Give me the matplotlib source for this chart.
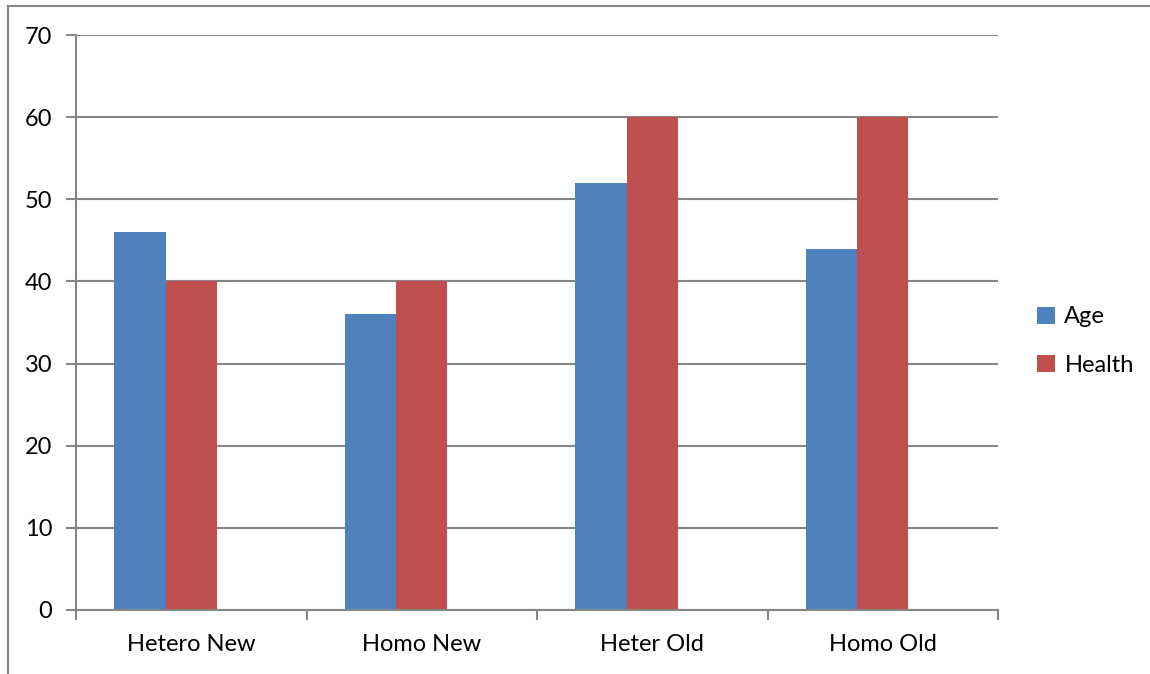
import matplotlib.pyplot as plt
import numpy as np
from matplotlib.lines import Line2D

categories = ['Hetero New', 'Homo New', 'Heter Old', 'Homo Old']
age = [46, 36, 52, 44]
health = [40, 40, 60, 60]
series_names = ['Age', 'Health']

plt.rcParams['font.family'] = ['Lato', 'DejaVu Sans']

fig = plt.figure(figsize=(11.5, 6.74), dpi=100)
ax = fig.add_axes([76 / 1150, 1 - 610 / 674, (998 - 76) / 1150, (610 - 35) / 674])

# bars sit left of the category centre (Excel leaves room for a third slot)
x = np.arange(len(categories))
w = 0.222
ax.bar(x - w, age, w, color='#4F81BD', label=series_names[0])
ax.bar(x, health, w, color='#C0504D', label=series_names[1])

grey = '#868686'
ax.set_xlim(-0.5, len(categories) - 0.5)
ax.set_ylim(0, 70)
ax.set_yticks(range(0, 71, 10))
ax.yaxis.grid(True, color=grey, linewidth=1.5)
ax.set_axisbelow(True)
for s in ['top', 'right']:
    ax.spines[s].set_visible(False)
for s in ['left', 'bottom']:
    ax.spines[s].set_color(grey)
    ax.spines[s].set_linewidth(1.5)

ax.set_xticks(np.arange(-0.5, len(categories), 1.0))
ax.set_xticklabels([])
ax.set_xticks(x, minor=True)
ax.set_xticklabels(categories, minor=True)
ax.tick_params(axis='x', which='major', length=7, width=1.5, color=grey, direction='out')
ax.tick_params(axis='x', which='minor', length=0, pad=17, labelsize=17)
ax.tick_params(axis='y', length=7, width=1.5, color=grey, pad=10, labelsize=17)

fig.legend(loc='center left', bbox_to_anchor=(1016 / 1150, 1 - 341 / 674), frameon=False,
           fontsize=17, handlelength=0.75, handleheight=0.75, handletextpad=0.4, labelspacing=1.15)

# outer chart border (left and top only visible)
fig.add_artist(Line2D([8 / 1150, 8 / 1150], [0, 1 - 6 / 674], color=grey, linewidth=1.5))
fig.add_artist(Line2D([8 / 1150, 1], [1 - 6 / 674, 1 - 6 / 674], color=grey, linewidth=1.5))

fig.savefig('out.png', dpi=100)
